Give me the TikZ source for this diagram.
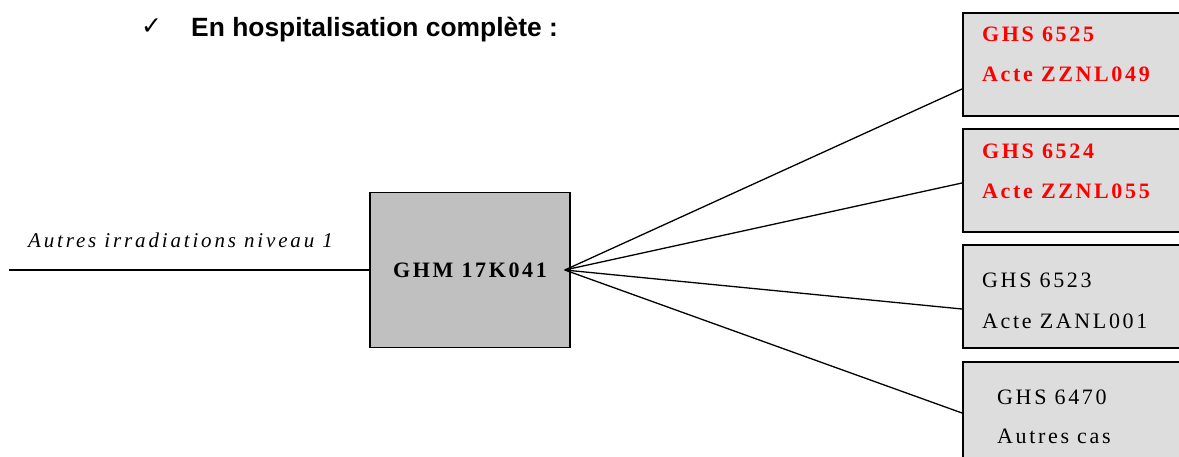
\documentclass[tikz,border=0pt]{standalone}
\usepackage{fontspec}
\setmainfont{Liberation Serif}
\newfontfamily\titlefont{Liberation Sans}
\newfontfamily\symfont{DejaVu Sans}
\usepackage{tikz}
\usetikzlibrary{positioning}

\definecolor{ghmgray}{RGB}{192,192,192}
\definecolor{ghsgray}{RGB}{221,221,221}

\newcommand\boxfont{\fontsize{22}{22}\selectfont\addfontfeature{LetterSpace=12}}

\tikzset{
  ghmbox/.style={draw, line width=1.6pt, fill=ghmgray, minimum width=200pt, minimum height=155pt, inner sep=0pt},
  ghsbox/.style={draw, line width=1.6pt, fill=ghsgray, minimum width=240pt, minimum height=103pt, anchor=north west},
  boxtext/.style={anchor=base west, inner sep=0pt, font=\boxfont},
  redtext/.style={boxtext, text=red, font=\bfseries\boxfont},
  link/.style={line width=1.3pt},
}

\begin{document}
\begin{tikzpicture}[x=1pt, y=-1pt]
  \useasboundingbox (0,0) rectangle (1179,457);
  \clip (0,0) rectangle (1179,457);

  % heading
  \node[anchor=base west, inner sep=0pt, font=\symfont\fontsize{25}{25}\selectfont] (check) at (141,35) {✓};
  \node[anchor=base west, inner sep=0pt, font=\titlefont\bfseries\fontsize{26.4}{26.4}\selectfont] (title) at (191,37) {En hospitalisation complète~:};

  % GHM
  \node[ghmbox] (ghm) at (470,270) {\bfseries\boxfont GHM 17K041};
  \coordinate (in) at (9,270);
  \draw[link] (in) -- (ghm.west);
  \node[anchor=base west, inner sep=0pt, font=\itshape\fontsize{21}{21}\selectfont\addfontfeature{LetterSpace=13.5}] (irr) at (28,248) {Autres irradiations niveau 1};

  % GHS
  \node[ghsbox] (ghs1) at (962,12) {};
  \node[ghsbox] (ghs2) at (962,128) {};
  \node[ghsbox] (ghs3) at (962,244) {};
  \node[ghsbox] (ghs4) at (962,361) {};

  \node[redtext] (t1a) at ([shift={(20,30)}]ghs1.north west) {GHS 6525};
  \node[redtext] (t1b) at ([shift={(20,70)}]ghs1.north west) {Acte ZZNL049};
  \node[redtext] (t2a) at ([shift={(20,31)}]ghs2.north west) {GHS 6524};
  \node[redtext] (t2b) at ([shift={(20,71)}]ghs2.north west) {Acte ZZNL055};
  \node[boxtext] (t3a) at ([shift={(20,44)}]ghs3.north west) {GHS 6523};
  \node[boxtext] (t3b) at ([shift={(20,85)}]ghs3.north west) {Acte ZANL001};
  \node[boxtext] (t4a) at ([shift={(35,43)}]ghs4.north west) {GHS 6470};
  \node[boxtext] (t4b) at ([shift={(35,82)}]ghs4.north west) {Autres cas};

  \coordinate (hub) at ([xshift=-6]ghm.east);
  \draw[link] (hub) -- ([shift={(0,77)}]ghs1.north west);
  \draw[link] (hub) -- ([shift={(0,55)}]ghs2.north west);
  \draw[link] (hub) -- ([shift={(0,65)}]ghs3.north west);
  \draw[link] (hub) -- ([shift={(0,52)}]ghs4.north west);
\end{tikzpicture}
\end{document}
